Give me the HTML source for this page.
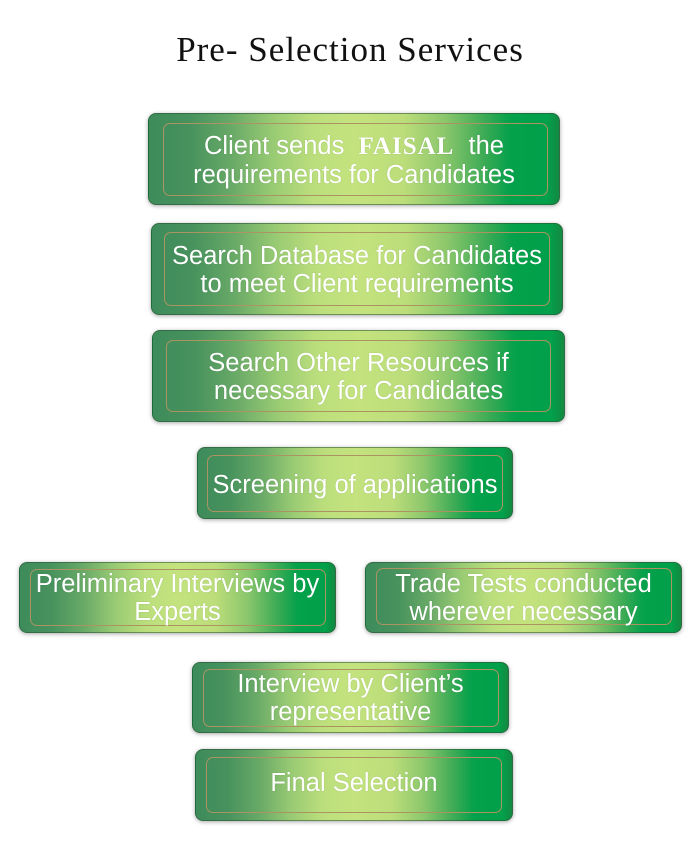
<!DOCTYPE html>
<html>
<head>
<meta charset="utf-8">
<style>
  html,body{margin:0;padding:0;background:#fff;}
  body{width:700px;height:865px;position:relative;overflow:hidden;}
  .title{position:absolute;left:0;width:700px;top:30px;text-align:center;
    font-family:"Liberation Serif",serif;font-size:35px;letter-spacing:1px;color:#111;line-height:40px;}
  .box{position:absolute;box-sizing:border-box;border-radius:8px;
    background:linear-gradient(to right,#3e8b5b 0%,#47925d 10%,#68a967 20%,#98ca73 30%,#bbde7c 40%,#c4e37f 50%,#bcdd7a 62%,#8cc76c 72%,#3aaa55 82%,#05a14b 88%,#01a04a 97%,#148a42 100%);
    border:1px solid rgba(40,80,50,0.55);
    box-shadow:0 1px 4px rgba(0,0,0,0.35);}
  .inner{position:absolute;box-sizing:border-box;border:1px solid #ab9462;border-radius:7px;}
  .txt{position:absolute;left:0;right:0;display:flex;flex-direction:column;align-items:center;justify-content:center;
    font-family:"Liberation Sans",Arial,sans-serif;font-size:25.5px;line-height:28px;color:#fff;white-space:pre;
    text-shadow:0 0 1px rgba(0,60,20,0.25);}
  .faisal{font-family:"Liberation Serif",serif;font-weight:bold;font-size:25px;letter-spacing:1px;}
</style>
</head>
<body>
<div class="title">Pre- Selection Services</div>

<!-- Box 1 -->
<div class="box" style="left:148px;top:113px;width:412px;height:92px;"></div>
<div class="inner" style="left:163px;top:123px;width:385px;height:73px;"></div>
<div class="txt" style="left:148px;width:412px;top:114px;height:92px;">
  <div>Client sends  <span class="faisal">FAISAL</span>  the</div>
  <div>requirements for Candidates</div>
</div>

<!-- Box 2 -->
<div class="box" style="left:151px;top:223px;width:412px;height:92px;"></div>
<div class="inner" style="left:164px;top:232px;width:386px;height:74px;"></div>
<div class="txt" style="left:151px;width:412px;top:224px;height:92px;">
  <div>Search Database for Candidates</div>
  <div>to meet Client requirements</div>
</div>

<!-- Box 3 -->
<div class="box" style="left:152px;top:330px;width:413px;height:92px;"></div>
<div class="inner" style="left:166px;top:340px;width:385px;height:72px;"></div>
<div class="txt" style="left:152px;width:413px;top:331px;height:92px;">
  <div>Search Other Resources if</div>
  <div>necessary for Candidates</div>
</div>

<!-- Box 4 -->
<div class="box" style="left:197px;top:447px;width:316px;height:72px;"></div>
<div class="inner" style="left:207px;top:455px;width:296px;height:57px;"></div>
<div class="txt" style="left:197px;width:316px;top:449px;height:72px;">
  <div>Screening of applications</div>
</div>

<!-- Box 5 -->
<div class="box" style="left:19px;top:562px;width:317px;height:71px;"></div>
<div class="inner" style="left:30px;top:569px;width:296px;height:57px;"></div>
<div class="txt" style="left:19px;width:317px;top:562px;height:71px;">
  <div>Preliminary Interviews by</div>
  <div>Experts</div>
</div>

<!-- Box 6 -->
<div class="box" style="left:365px;top:562px;width:317px;height:71px;"></div>
<div class="inner" style="left:376px;top:568px;width:296px;height:57px;"></div>
<div class="txt" style="left:365px;width:317px;top:562px;height:71px;">
  <div>Trade Tests conducted</div>
  <div>wherever necessary</div>
</div>

<!-- Box 7 -->
<div class="box" style="left:192px;top:662px;width:317px;height:71px;"></div>
<div class="inner" style="left:203px;top:669px;width:296px;height:58px;"></div>
<div class="txt" style="left:192px;width:317px;top:662px;height:71px;">
  <div>Interview by Client’s</div>
  <div>representative</div>
</div>

<!-- Box 8 -->
<div class="box" style="left:195px;top:749px;width:318px;height:72px;"></div>
<div class="inner" style="left:206px;top:757px;width:296px;height:56px;"></div>
<div class="txt" style="left:195px;width:318px;top:747px;height:72px;">
  <div>Final Selection</div>
</div>
</body>
</html>
